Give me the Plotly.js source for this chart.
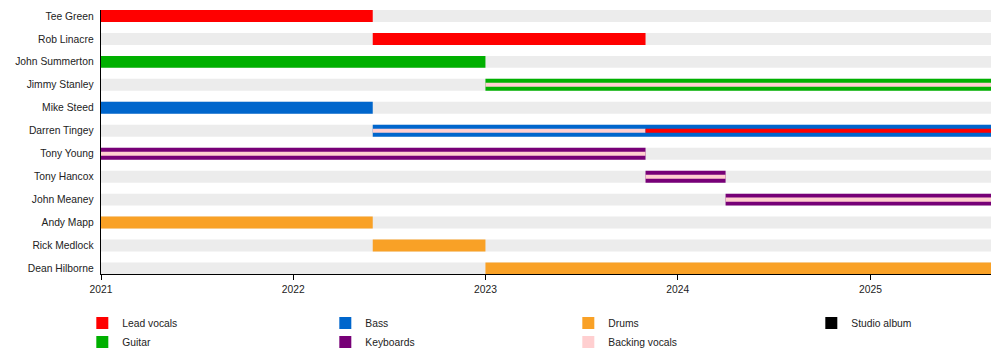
<!DOCTYPE html>
<html>
<head>
<meta charset="utf-8">
<script src="https://cdn.plot.ly/plotly-3.0.1.min.js"></script>
<style>html,body{margin:0;padding:0;background:#fff;}#chart{width:1000px;height:354px;}</style>
</head>
<body>
<div id="chart"></div>
<script>
// ---- Data ----
const members = ['Tee Green','Rob Linacre','John Summerton','Jimmy Stanley','Mike Steed','Darren Tingey',
  'Tony Young','Tony Hancox','John Meaney','Andy Mapp','Rick Medlock','Dean Hilborne'];
const timelineStart = '2021-01-01';
const timelineEnd = '2025-08-18';
const yearTicks = ['2021-01-01','2022-01-01','2023-01-01','2024-01-01','2025-01-01'];
const yearLabels = ['2021','2022','2023','2024','2025'];

// main roles (full-height bars)
const leadVocalsMember = ['Tee Green','Rob Linacre'];
const leadVocalsStart  = ['2021-01-01','2022-06-01'];
const leadVocalsEnd    = ['2022-06-01','2023-11-01'];

const guitarMember = ['John Summerton','Jimmy Stanley'];
const guitarStart  = ['2021-01-01','2023-01-01'];
const guitarEnd    = ['2023-01-01','2025-08-18'];

const bassMember = ['Mike Steed','Darren Tingey'];
const bassStart  = ['2021-01-01','2022-06-01'];
const bassEnd    = ['2022-06-01','2025-08-18'];

const keyboardsMember = ['Tony Young','Tony Hancox','John Meaney'];
const keyboardsStart  = ['2021-01-01','2023-11-01','2024-04-01'];
const keyboardsEnd    = ['2023-11-01','2024-04-01','2025-08-18'];

const drumsMember = ['Andy Mapp','Rick Medlock','Dean Hilborne'];
const drumsStart  = ['2021-01-01','2022-06-01','2023-01-01'];
const drumsEnd    = ['2022-06-01','2023-01-01','2025-08-18'];

// secondary roles (thin stripes)
const backingVocalsMember = ['Jimmy Stanley','Darren Tingey','Tony Young','Tony Hancox','John Meaney'];
const backingVocalsStart  = ['2023-01-01','2022-06-01','2021-01-01','2023-11-01','2024-04-01'];
const backingVocalsEnd    = ['2025-08-18','2023-11-01','2023-11-01','2024-04-01','2025-08-18'];

const leadVocalsStripeMember = ['Darren Tingey'];
const leadVocalsStripeStart  = ['2023-11-01'];
const leadVocalsStripeEnd    = ['2025-08-18'];

// no studio albums are marked in the range (legend entry only)
const studioAlbumDates = [null];

// ---- Styles ----
const colors = {
  lead: '#ff0000', guitar: '#00b000', bass: '#0066cc', keys: '#770077',
  drums: '#f9a126', backing: '#ffcfd0', album: '#000000', bg: '#ececec'
};
const FULL = 0.52, STRIPE = 0.175;

function dur(s, e){ return s.map((v,i)=> Date.parse(e[i]) - Date.parse(v)); }

function barTrace(name, member, start, end, color, width, opts){
  return Object.assign({
    type:'bar', orientation:'h', name:name,
    y: member, base: start, x: dur(start, end),
    width: member.map(()=>width),
    marker:{color:color, line:{width:0}},
    hoverinfo:'skip'
  }, opts||{});
}

const traces = [
  barTrace('bg', members, members.map(()=>timelineStart), members.map(()=>timelineEnd), colors.bg, FULL, {showlegend:false}),
  barTrace('Lead vocals', leadVocalsMember, leadVocalsStart, leadVocalsEnd, colors.lead, FULL, {legendrank:1, legendgroup:'lead'}),
  barTrace('Guitar', guitarMember, guitarStart, guitarEnd, colors.guitar, FULL, {legendrank:5}),
  barTrace('Bass', bassMember, bassStart, bassEnd, colors.bass, FULL, {legendrank:2}),
  barTrace('Keyboards', keyboardsMember, keyboardsStart, keyboardsEnd, colors.keys, FULL, {legendrank:6}),
  barTrace('Drums', drumsMember, drumsStart, drumsEnd, colors.drums, FULL, {legendrank:3}),
  barTrace('Backing vocals', backingVocalsMember, backingVocalsStart, backingVocalsEnd, colors.backing, STRIPE, {legendrank:7}),
  barTrace('Lead vocals', leadVocalsStripeMember, leadVocalsStripeStart, leadVocalsStripeEnd, colors.lead, STRIPE, {showlegend:false, legendgroup:'lead'}),
  {type:'bar', orientation:'h', name:'Studio album', y:studioAlbumDates.map(()=>null), x:studioAlbumDates,
   marker:{color:colors.album}, legendrank:4, showlegend:true, hoverinfo:'skip'}
];

const layout = {
  width:1000, height:354,
  margin:{l:101, r:9, t:10, b:80, autoexpand:false},
  paper_bgcolor:'#fff', plot_bgcolor:'#fff',
  barmode:'overlay',
  font:{family:'Liberation Sans, Arial, sans-serif', size:10.3, color:'#222'},
  xaxis:{
    type:'date', range:[timelineStart, timelineEnd],
    tickvals:yearTicks, ticktext:yearLabels,
    ticks:'outside', ticklen:5, tickcolor:'#000', tickwidth:1,
    showline:true, linecolor:'#000', linewidth:1.3,
    showgrid:false, zeroline:false, fixedrange:true
  },
  yaxis:{
    type:'category', categoryorder:'array', categoryarray:members,
    range:[11.24, -0.26],
    ticks:'outside', ticklen:4, tickcolor:'rgba(0,0,0,0)',
    showline:true, linecolor:'#000', linewidth:1.3,
    showgrid:false, zeroline:false, fixedrange:true
  },
  showlegend:true,
  legend:{
    orientation:'h', x:-0.021, xanchor:'left', y:-0.131, yanchor:'top',
    entrywidth:198, entrywidthmode:'pixels', traceorder:'normal',
    font:{size:10.3, color:'#222'}, bgcolor:'rgba(0,0,0,0)'
  }
};

Plotly.newPlot('chart', traces, layout, {displayModeBar:false, staticPlot:true});
</script>
</body>
</html>
